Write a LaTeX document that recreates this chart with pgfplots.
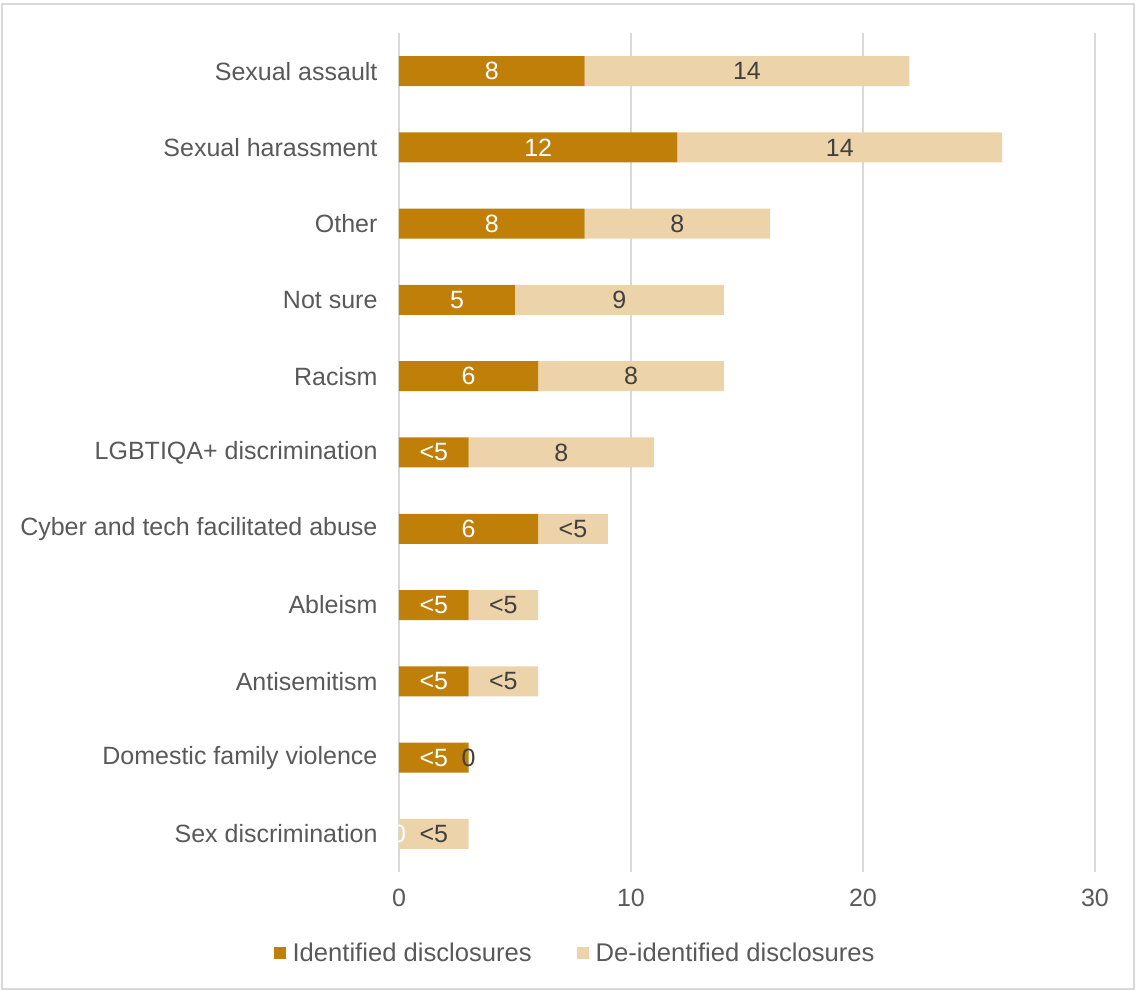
\documentclass[border=0pt]{standalone}
\usepackage{pgfplots}
\pgfplotsset{compat=1.18}
\usepackage{pgfplotstable}
\usepackage{fontspec}
\setmainfont{Liberation Sans}
\definecolor{idc}{RGB}{191,127,8}
\definecolor{dec}{RGB}{237,211,169}
\definecolor{gridc}{RGB}{217,217,217}
\definecolor{txt}{RGB}{89,89,89}
\definecolor{lab}{RGB}{64,64,64}
\pgfplotstableread{
y id deid idmid deidmid idlab deidlab
10 8 14 4 15 8 14
9 12 14 6 19 12 14
8 8 8 4 12 8 8
7 5 9 2.5 9.5 5 9
6 6 8 3 10 6 8
5 3 8 1.5 7 <5 8
4 6 3 3 7.5 6 <5
3 3 3 1.5 4.5 <5 <5
2 3 3 1.5 4.5 <5 <5
1 3 0 1.5 3 <5 0
0 0 3 0 1.5 0 <5
}\data
\begin{document}
\begin{tikzpicture}[font=\fontsize{25}{30}\selectfont]
\useasboundingbox (-399pt,-119pt) rectangle (737pt,872pt);
\draw[gridc, line width=1.5pt] (-397pt,-117pt) rectangle (735pt,868pt);
\pgfplotsset{base/.style={scale only axis, width=696pt, height=839pt,
  xmin=0, xmax=30, ymin=-0.5, ymax=10.5, at={(0,0)}, anchor=south west}}
\begin{axis}[base, xbar stacked, bar width=30pt,
  axis line style={draw=none},
  xtick={0,10,20,30}, xmajorgrids, grid style={gridc, line width=1.2pt},
  major tick length=0pt,
  ytick={0,...,10},
  yticklabels={Sex discrimination, Domestic family violence, Antisemitism, Ableism, Cyber and tech facilitated abuse, LGBTIQA+ discrimination, Racism, Not sure, Other, Sexual harassment, Sexual assault},
  tick label style={text=txt},
  xticklabel style={yshift=-14pt},
  yticklabel style={xshift=-18pt},
  /pgf/number format/assume math mode=true,
  legend columns=2,
  legend style={at={(0.253,-0.0965)}, anchor=center, draw=none, fill=none,
    text=txt, font=\fontsize{25.6}{30}\selectfont,
    /tikz/every even column/.append style={column sep=43pt},
    inner sep=0pt},
  legend cell align=left,
  legend image code/.code={\fill[#1] (0pt,-6pt) rectangle (12pt,6pt); \path (17pt,0pt);},
]
\addplot[fill=idc, draw=none] table[x=id,y=y]{\data};
\addplot[fill=dec, draw=none] table[x=deid,y=y]{\data};
\legend{Identified disclosures, De-identified disclosures}
\end{axis}
\begin{axis}[base, hide axis]
\addplot[draw=none, mark=none, nodes near coords, point meta=explicit symbolic,
  nodes near coords style={anchor=center, text=white, inner sep=0pt}]
  table[x=idmid, y=y, meta=idlab]{\data};
\addplot[draw=none, mark=none, nodes near coords, point meta=explicit symbolic,
  nodes near coords style={anchor=center, text=lab, inner sep=0pt}]
  table[x=deidmid, y=y, meta=deidlab]{\data};
\end{axis}
\end{tikzpicture}
\end{document}
